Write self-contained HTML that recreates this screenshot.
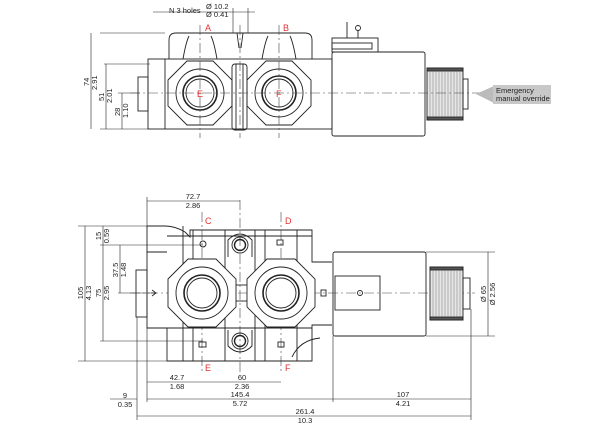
<!DOCTYPE html>
<html><head><style>body{margin:0;background:#fff}svg{display:block}</style></head><body>
<svg width="600" height="428" viewBox="0 0 600 428" xmlns="http://www.w3.org/2000/svg" font-family="Liberation Sans, sans-serif">
<g fill="none" stroke="#222" stroke-width="0.9">
<!-- ===== TOP VIEW ===== -->
<path d="M169,59 V40 Q169,33 176,33 H305 Q312,33 312,40 V59"/>
<path d="M183,59 Q186,42 189,36 M217,59 Q214,42 211,36 M262,59 Q265,42 268,36 M296,59 Q293,42 290,36"/>
<rect x="148" y="59" width="184" height="70"/>
<rect x="138" y="77" width="10" height="34"/>
<line x1="165" y1="59" x2="165" y2="129"/>
<polygon points="168,80 187,61 213,61 232,80 232,106 213,125 187,125 168,106"/>
<polygon points="247,80 266,61 292,61 311,80 311,106 292,125 266,125 247,106"/>
<circle cx="200" cy="93" r="24"/><circle cx="200" cy="93" r="17" stroke-width="1.6"/><circle cx="200" cy="93" r="14"/>
<circle cx="279" cy="93" r="24"/><circle cx="279" cy="93" r="17" stroke-width="1.6"/><circle cx="279" cy="93" r="14"/>
<rect x="232" y="64" width="15" height="66" rx="3"/>
<line x1="236" y1="64" x2="236" y2="130"/><line x1="243" y1="64" x2="243" y2="130"/>
<path d="M237,33 L239,48 M243,33 L241,48"/>
<rect x="332" y="52" width="93" height="84" rx="2"/>
<rect x="332" y="38" width="46" height="14"/><rect x="332" y="43" width="40" height="6"/>
<line x1="347" y1="22" x2="347" y2="38"/><circle cx="358" cy="28" r="2.5"/><line x1="358" y1="30" x2="358" y2="38"/>
<rect x="427" y="68" width="36" height="52" fill="#e6e6e6"/>
<rect x="427" y="68" width="36" height="3" fill="#555"/><rect x="427" y="117" width="36" height="3" fill="#555"/>
<g stroke="#777" stroke-width="0.5">
<line x1="430" y1="71" x2="430" y2="117"/><line x1="433" y1="71" x2="433" y2="117"/><line x1="436" y1="71" x2="436" y2="117"/><line x1="439" y1="71" x2="439" y2="117"/><line x1="442" y1="71" x2="442" y2="117"/><line x1="445" y1="71" x2="445" y2="117"/><line x1="448" y1="71" x2="448" y2="117"/><line x1="451" y1="71" x2="451" y2="117"/><line x1="454" y1="71" x2="454" y2="117"/><line x1="457" y1="71" x2="457" y2="117"/><line x1="460" y1="71" x2="460" y2="117"/></g>
<rect x="463" y="79" width="5" height="30"/>
<!-- top dims -->
<g stroke-width="0.6">
<line x1="100" y1="33" x2="165" y2="33"/><line x1="100" y1="129" x2="150" y2="129"/><line x1="104" y1="64" x2="150" y2="64"/><line x1="118" y1="93" x2="140" y2="93"/>
<line x1="91" y1="33" x2="91" y2="129"/><line x1="106" y1="64" x2="106" y2="129"/><line x1="122" y1="93" x2="122" y2="129"/>
<line x1="153" y1="12" x2="255" y2="12"/><line x1="233" y1="8" x2="233" y2="33"/><line x1="248" y1="8" x2="248" y2="33"/>
</g>
</g>
<g stroke="#444" stroke-width="0.6" stroke-dasharray="10,3,2,3" fill="none">
<line x1="130" y1="93" x2="490" y2="93"/><line x1="200" y1="25" x2="200" y2="138"/><line x1="279" y1="25" x2="279" y2="138"/><line x1="240" y1="25" x2="240" y2="138"/>
<line x1="130" y1="293" x2="475" y2="293"/><line x1="202" y1="212" x2="202" y2="372"/><line x1="281" y1="212" x2="281" y2="372"/><line x1="240" y1="200" x2="240" y2="372"/>
</g>
<polygon points="476,94 494,86 494,103" fill="#bbb"/>
<rect x="493" y="85" width="58" height="19" fill="#c8c8c8"/>
<g font-size="7.5" fill="#222">
<text x="496" y="93">Emergency</text><text x="496" y="101">manual override</text>
<text x="169" y="13">N 3 holes</text><text x="206" y="9">Ø 10.2</text><text x="206" y="17">Ø 0.41</text>
<text transform="translate(89,86) rotate(-90)">74</text><text transform="translate(97,90) rotate(-90)">2.91</text>
<text transform="translate(104,101) rotate(-90)">51</text><text transform="translate(112,103) rotate(-90)">2.01</text>
<text transform="translate(120,116) rotate(-90)">28</text><text transform="translate(128,118) rotate(-90)">1.10</text>
</g>
<g font-size="9" fill="#d33">
<text x="205" y="31">A</text><text x="283" y="31">B</text><text x="197" y="97">E</text><text x="276" y="97">F</text>
<text x="205" y="224">C</text><text x="285" y="224">D</text><text x="205" y="371">E</text><text x="285" y="371">F</text>
<text x="198" y="297">A</text><text x="277" y="297">B</text>
</g>
<!-- ===== BOTTOM VIEW ===== -->
<g fill="none" stroke="#222" stroke-width="0.9">
<path d="M147,226 H165 Q175,226 185,232 L190,237 V230 H312 V262 H332"/>
<path d="M147,226 V328 H167 V361 H312 V325 H332"/>
<path d="M167,236 H312 M147,252 H167"/>
<rect x="136" y="270" width="11" height="47"/>
<path d="M167,328 H312"/>
<path d="M183,226 V361 M193,230 V361 M225,230 V361 M255,230 V361 M265,230 V361 M297,230 V361"/>
<polygon points="168,279 188,259 216,259 236,279 236,307 216,327 188,327 168,307" fill="#fff"/>
<polygon points="247,279 267,259 295,259 315,279 315,307 295,327 267,327 247,307" fill="#fff"/>
<line x1="236" y1="285" x2="247" y2="285"/><line x1="236" y1="301" x2="247" y2="301"/>
<circle cx="202" cy="293" r="26"/><circle cx="202" cy="293" r="18" stroke-width="1.6"/><circle cx="202" cy="293" r="15"/>
<circle cx="281" cy="293" r="26"/><circle cx="281" cy="293" r="18" stroke-width="1.6"/><circle cx="281" cy="293" r="15"/>
<path d="M228,257 V240 Q240,228 252,240 V257"/><circle cx="240" cy="245" r="8"/><circle cx="240" cy="245" r="5.5" stroke-width="1.4"/>
<path d="M228,330 V346 Q240,358 252,346 V330"/><circle cx="240" cy="341" r="8"/><circle cx="240" cy="341" r="5.5" stroke-width="1.4"/>
<circle cx="203" cy="244" r="3"/><rect x="277" y="240" width="6" height="5"/><rect x="199" y="342" width="7" height="5"/><rect x="278" y="342" width="6" height="5"/>
<path d="M152,290 L156,293 L152,296 M151,293 H156" stroke-width="0.8"/>
<rect x="321" y="290" width="5" height="6"/>
<path d="M292,357 Q300,340 320,338"/>
<rect x="333" y="252" width="93" height="84" rx="2"/>
<rect x="335" y="276" width="45" height="34"/>
<circle cx="360" cy="293" r="2.5"/>
<rect x="430" y="267" width="33" height="53" fill="#e6e6e6"/>
<rect x="430" y="267" width="33" height="3" fill="#555"/><rect x="430" y="317" width="33" height="3" fill="#555"/>
<g stroke="#777" stroke-width="0.5">
<line x1="433" y1="270" x2="433" y2="317"/><line x1="436" y1="270" x2="436" y2="317"/><line x1="439" y1="270" x2="439" y2="317"/><line x1="442" y1="270" x2="442" y2="317"/><line x1="445" y1="270" x2="445" y2="317"/><line x1="448" y1="270" x2="448" y2="317"/><line x1="451" y1="270" x2="451" y2="317"/><line x1="454" y1="270" x2="454" y2="317"/><line x1="457" y1="270" x2="457" y2="317"/><line x1="460" y1="270" x2="460" y2="317"/></g>
<rect x="463" y="278" width="7" height="31"/>
<!-- bottom dims -->
<g stroke-width="0.6">
<line x1="147" y1="201" x2="240" y2="201"/><line x1="147" y1="197" x2="147" y2="226"/>
<line x1="78" y1="226" x2="147" y2="226"/><line x1="78" y1="361" x2="167" y2="361"/><line x1="100" y1="245" x2="203" y2="245"/><line x1="100" y1="341" x2="203" y2="341"/><line x1="118" y1="293" x2="150" y2="293"/>
<line x1="85" y1="226" x2="85" y2="361"/><line x1="103" y1="226" x2="103" y2="341"/><line x1="120" y1="245" x2="120" y2="293"/>
<line x1="147" y1="328" x2="147" y2="402"/><line x1="137" y1="317" x2="137" y2="420"/><line x1="333" y1="336" x2="333" y2="402"/><line x1="471" y1="309" x2="471" y2="420"/>
<line x1="147" y1="382" x2="281" y2="382"/><line x1="147" y1="399" x2="471" y2="399"/><line x1="110" y1="399" x2="137" y2="399"/><line x1="137" y1="416" x2="471" y2="416"/>
<line x1="426" y1="252" x2="495" y2="252"/><line x1="426" y1="336" x2="495" y2="336"/><line x1="488" y1="252" x2="488" y2="336"/>
</g>
</g>
<g font-size="7.5" fill="#222" text-anchor="middle">
<text x="193" y="199">72.7</text><text x="193" y="208">2.86</text>
<text x="177" y="380">42.7</text><text x="177" y="389">1.68</text>
<text x="242" y="380">60</text><text x="242" y="389">2.36</text>
<text x="125" y="398">9</text><text x="125" y="407">0.35</text>
<text x="240" y="397">145.4</text><text x="240" y="406">5.72</text>
<text x="403" y="397">107</text><text x="403" y="406">4.21</text>
<text x="305" y="414">261.4</text><text x="305" y="423">10.3</text>
<text transform="translate(83,293) rotate(-90)">105</text><text transform="translate(91,293) rotate(-90)">4.13</text>
<text transform="translate(101,236) rotate(-90)">15</text><text transform="translate(109,236) rotate(-90)">0.59</text>
<text transform="translate(118,270) rotate(-90)">37.5</text><text transform="translate(126,270) rotate(-90)">1.48</text>
<text transform="translate(101,293) rotate(-90)">75</text><text transform="translate(109,293) rotate(-90)">2.95</text>
<text transform="translate(486,294) rotate(-90)">Ø 65</text><text transform="translate(495,294) rotate(-90)">Ø 2.56</text>
</g>
</svg>
</body></html>
